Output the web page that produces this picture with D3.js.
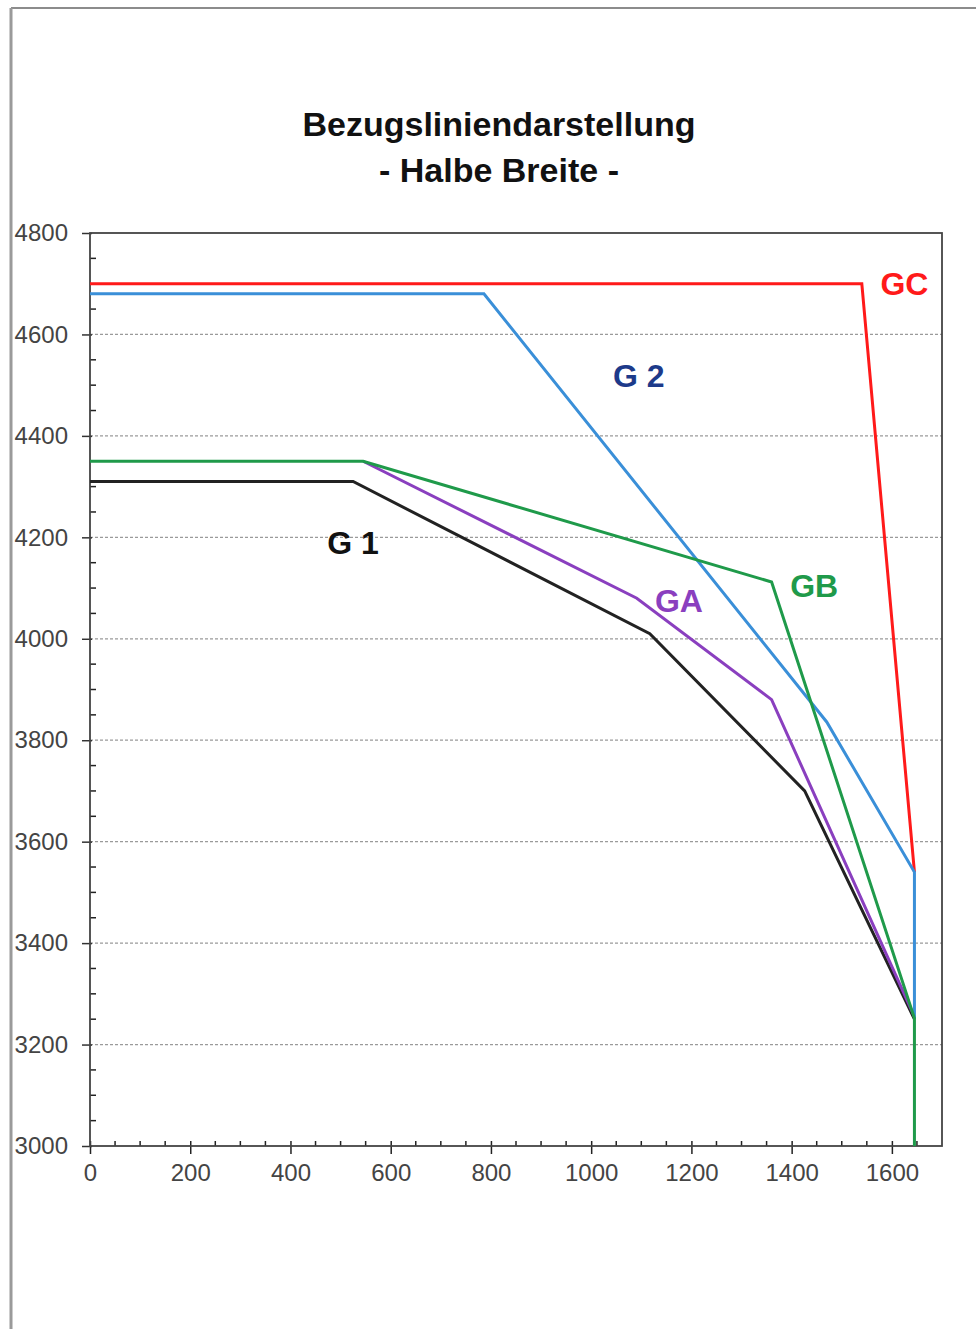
<!DOCTYPE html>
<html>
<head>
<meta charset="utf-8">
<script src="https://cdn.jsdelivr.net/npm/d3@7"></script>
<style>
  body { margin: 0; background: #fff; }
  svg { display: block; font-family: 'Liberation Sans', Arial, sans-serif; }
</style>
</head>
<body>
<div id="chart"></div>
<script>
// tick values
const xTicks = [0, 200, 400, 600, 800, 1000, 1200, 1400, 1600];
const yTicks = [3000, 3200, 3400, 3600, 3800, 4000, 4200, 4400, 4600, 4800];

// profile lines (half width x, height y)
const gcX = [0, 1540, 1645];
const gcY = [4700, 4700, 3540];

const g2X = [0, 786, 1470, 1645, 1645];
const g2Y = [4680, 4680, 3836, 3540, 3250];

const g1X = [0, 525, 1117, 1426, 1645];
const g1Y = [4310, 4310, 4010, 3700, 3250];

const gaX = [545, 1091, 1360, 1645];
const gaY = [4350, 4080, 3880, 3255];

const gbX = [0, 545, 1360, 1645, 1645];
const gbY = [4350, 4350, 4112, 3252, 3000];

const seriesNames = ['GC', 'G 1', 'GA', 'G 2', 'GB'];
const seriesX = [gcX, g1X, gaX, g2X, gbX];
const seriesY = [gcY, g1Y, gaY, g2Y, gbY];
const seriesColors = ['#ff1a1a', '#222222', '#8a3fbf', '#3a8fd8', '#1f9a4a'];

// curve label placement (data coordinates) and colours
const labelText = ['GC', 'G 2', 'G 1', 'GA', 'GB'];
const labelX = [1625, 1095, 525, 1175, 1445];
const labelY = [4700, 4520, 4190, 4075, 4105];
const labelColors = ['#ff1a1a', '#1d3a8a', '#111111', '#8a3fbf', '#1f9a4a'];

const width = 976;
const height = 1329;
const margin = { top: 233, right: 34, bottom: 183, left: 90 };

const svg = d3.select('#chart').append('svg')
  .attr('width', width)
  .attr('height', height);

// page frame lines (top and left)
svg.append('line')
  .attr('x1', 11).attr('y1', 8).attr('x2', width).attr('y2', 8)
  .attr('stroke', '#8c8c8c').attr('stroke-width', 2);
svg.append('line')
  .attr('x1', 11).attr('y1', 8).attr('x2', 11).attr('y2', height)
  .attr('stroke', '#9a9a9a').attr('stroke-width', 3);

svg.append('text')
  .attr('x', 499).attr('y', 136)
  .attr('text-anchor', 'middle')
  .attr('font-size', 34).attr('font-weight', 'bold')
  .attr('fill', '#111')
  .text('Bezugsliniendarstellung');

svg.append('text')
  .attr('x', 499).attr('y', 182)
  .attr('text-anchor', 'middle')
  .attr('font-size', 34).attr('font-weight', 'bold')
  .attr('fill', '#111')
  .text('- Halbe Breite -');

const x = d3.scaleLinear()
  .domain([0, 1700])
  .range([margin.left, width - margin.right]);

const y = d3.scaleLinear()
  .domain([3000, 4800])
  .range([height - margin.bottom, margin.top]);

// horizontal dashed grid
svg.append('g')
  .selectAll('line')
  .data(yTicks.filter(t => t > 3000 && t < 4800))
  .join('line')
  .attr('x1', x(0)).attr('x2', x(1700))
  .attr('y1', d => y(d)).attr('y2', d => y(d))
  .attr('stroke', '#9a9a9a')
  .attr('stroke-width', 1.2)
  .attr('stroke-dasharray', '3,2');

// minor ticks (inside)
const minorX = d3.range(50, 1700, 50).filter(v => v % 200 !== 0);
const minorY = d3.range(3050, 4800, 50).filter(v => v % 200 !== 0);

svg.append('g')
  .selectAll('line')
  .data(minorX)
  .join('line')
  .attr('x1', d => x(d)).attr('x2', d => x(d))
  .attr('y1', y(3000)).attr('y2', y(3000) - 5)
  .attr('stroke', '#222').attr('stroke-width', 1.5);

svg.append('g')
  .selectAll('line')
  .data(minorY)
  .join('line')
  .attr('x1', x(0)).attr('x2', x(0) + 6)
  .attr('y1', d => y(d)).attr('y2', d => y(d))
  .attr('stroke', '#222').attr('stroke-width', 1.5);

// major ticks and labels via axes
const xAxis = svg.append('g')
  .attr('transform', `translate(0,${y(3000)})`)
  .call(d3.axisBottom(x).tickValues(xTicks).tickFormat(d3.format('d'))
    .tickSize(8).tickPadding(10).tickSizeOuter(0));

xAxis.select('.domain').remove();
xAxis.selectAll('.tick line')
  .attr('y1', -5)
  .attr('stroke', '#222').attr('stroke-width', 1.5);
xAxis.selectAll('.tick text')
  .attr('font-size', 24)
  .attr('font-family', 'Liberation Sans, Arial, sans-serif')
  .attr('fill', '#444')
  .attr('dy', '0.71em');

const yAxis = svg.append('g')
  .attr('transform', `translate(${x(0)},0)`)
  .call(d3.axisLeft(y).tickValues(yTicks).tickFormat(d3.format('d'))
    .tickSize(8).tickPadding(14).tickSizeOuter(0));

yAxis.select('.domain').remove();
yAxis.selectAll('.tick line')
  .attr('x1', 2)
  .attr('stroke', '#333').attr('stroke-width', 1.5);
yAxis.selectAll('.tick text')
  .attr('font-size', 24)
  .attr('font-family', 'Liberation Sans, Arial, sans-serif')
  .attr('fill', '#444');

// plot frame
svg.append('rect')
  .attr('x', x(0)).attr('y', y(4800))
  .attr('width', x(1700) - x(0))
  .attr('height', y(3000) - y(4800))
  .attr('fill', 'none')
  .attr('stroke', '#444')
  .attr('stroke-width', 1.8);

const line = d3.line()
  .x(d => x(d[0]))
  .y(d => y(d[1]));

seriesNames.forEach((name, i) => {
  const points = seriesX[i].map((v, j) => [v, seriesY[i][j]]);
  svg.append('path')
    .datum(points)
    .attr('fill', 'none')
    .attr('stroke', seriesColors[i])
    .attr('stroke-width', 3)
    .attr('stroke-linejoin', 'miter')
    .attr('d', line);
});

svg.append('g')
  .selectAll('text')
  .data(labelText)
  .join('text')
  .attr('x', (d, i) => x(labelX[i]))
  .attr('y', (d, i) => y(labelY[i]))
  .attr('text-anchor', 'middle')
  .attr('dy', '0.36em')
  .attr('font-size', 32)
  .attr('font-weight', 'bold')
  .attr('fill', (d, i) => labelColors[i])
  .text(d => d);
</script>
</body>
</html>
